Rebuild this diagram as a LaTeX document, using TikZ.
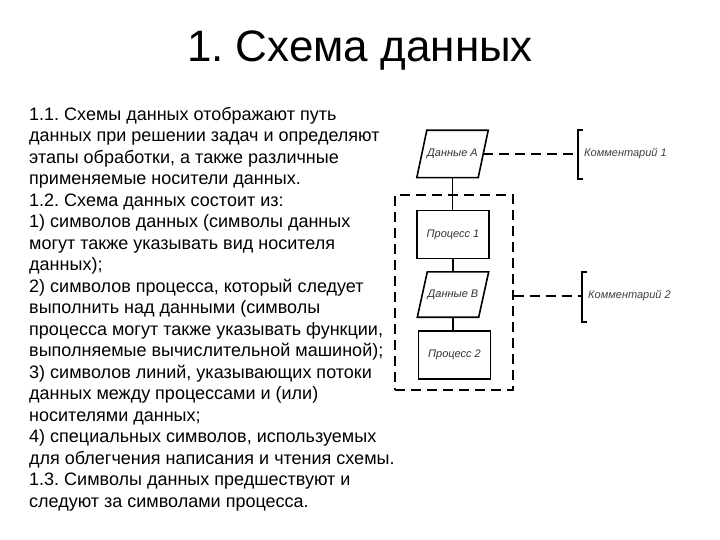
\documentclass[tikz,border=0pt]{standalone}
\usepackage{fontspec}
\setmainfont{Liberation Sans}
\usetikzlibrary{calc}
\frenchspacing
\tikzset{
	dannye/.style={rectangle, minimum width=61pt, minimum height=47pt, inner sep=0pt,
		font=\fontsize{11}{13}\selectfont\itshape, text=black!80},
	protsess/.style={draw, line width=1.6pt, rectangle, minimum width=72pt, minimum height=48pt,
		font=\fontsize{11}{13}\selectfont\itshape, text=black!80},
	gruppa/.style={draw, line width=1.4pt, dash pattern=on 10pt off 6pt, rectangle, inner sep=0pt},
	kommentariy/.style={anchor=west, inner sep=0pt, font=\fontsize{11}{13}\selectfont\itshape, text=black!75},
	svyaz/.style={line width=1.6pt},
	punktir/.style={line width=1.6pt, dash pattern=on 10pt off 6pt},
}
% parallelogram round a data node
\def\ramka#1{\draw[svyaz, line join=miter] ($(#1.north west)+(5, 0)$) -- ($(#1.north east)+(5, 0)$) -- ($(#1.south east)+(-5, 0)$) -- ($(#1.south west)+(-5, 0)$) -- cycle;}

\begin{document}
\begin{tikzpicture}[x=1pt, y=-1pt]
			%%%%% START %%%%%
			\useasboundingbox (0, 0) rectangle (720, 540);
			
			\node[anchor=base, font=\fontsize{44}{50}\selectfont] (zagolovok) at (360, 62) {1. Схема данных};
			
			\node[anchor=north west, align=left, inner sep=0pt, font=\fontsize{18}{21.5}\selectfont] (tekst) at (29, 107) {%
				1.1. Схемы данных отображают путь\\
				данных при решении задач и определяют\\
				этапы обработки, а также различные\\
				применяемые носители данных.\\
				1.2. Схема данных состоит из:\\
				1) символов данных (символы данных\\
				могут также указывать вид носителя\\
				данных);\\
				2) символов процесса, который следует\\
				выполнить над данными (символы\\
				процесса могут также указывать функции,\\
				выполняемые вычислительной машиной);\\
				3) символов линий, указывающих потоки\\
				данных между процессами и (или)\\
				носителями данных;\\
				4) специальных символов, используемых\\
				для облегчения написания и чтения схемы.\\
				1.3. Символы данных предшествуют и\\
				следуют за символами процесса.};
			
			\node[gruppa, minimum width=118pt, minimum height=195pt] (gruppa) at (454, 292.5) {};
			
			\node[dannye] (dannA) at (452.5, 154) {Данные А};
			\ramka{dannA}
			\node[protsess] (proc1) at (453, 234.5) {Процесс 1};
			\node[dannye, minimum height=45pt] (dannB) at (453, 294.5) {Данные В};
			\ramka{dannB}
			\node[protsess] (proc2) at (454.5, 355) {Процесс 2};
			
			\draw[svyaz] (dannA.south) -- (dannA.south |- proc1.north);
			\draw[svyaz] (proc1.south) -- (proc1.south |- dannB.north);
			\draw[svyaz] (dannB.south) -- (dannB.south |- proc2.north);
			
			\coordinate (skobka1) at (578, 154);
			\coordinate (skobka2) at (582, 296);
			
			\draw[punktir] (dannA.east) -- (skobka1);
			\draw[svyaz] ($(skobka1)+(5, -24)$) -- ++(-5, 0) -- ++(0, 49) -- ++(5, 0);
			\node[kommentariy] (kom1) at ($(skobka1)+(6, 0)$) {Комментарий 1};
			
			\draw[punktir] (gruppa.east |- skobka2) -- (skobka2);
			\draw[svyaz] ($(skobka2)+(5, -24)$) -- ++(-5, 0) -- ++(0, 50) -- ++(5, 0);
			\node[kommentariy] (kom2) at ($(skobka2)+(6, 0)$) {Комментарий 2};
			
			%%%%% END %%%%%
\end{tikzpicture}
\end{document}
